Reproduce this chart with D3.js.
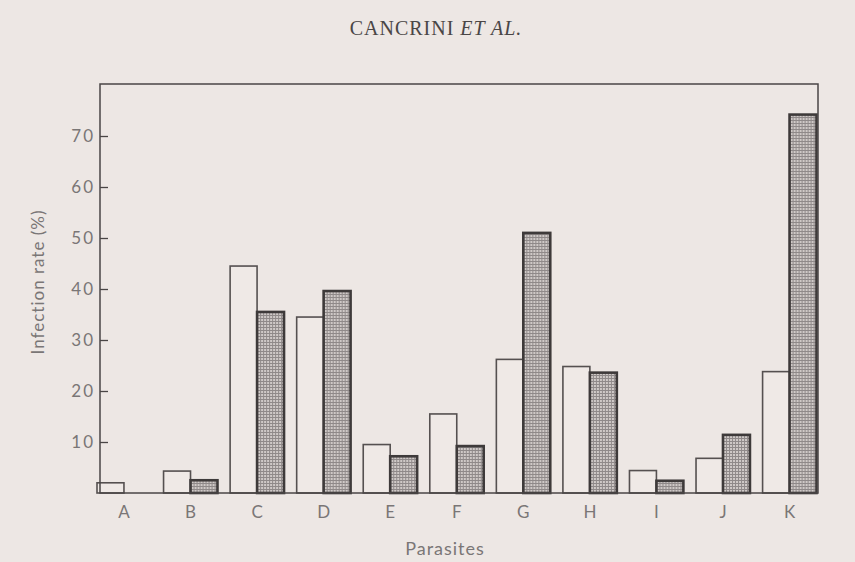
<!DOCTYPE html>
<html>
<head>
<meta charset="utf-8">
<script src="https://cdn.jsdelivr.net/npm/d3@7"></script>
<style>
  body { margin: 0; background: #ede7e4; }
  svg { display: block; }
</style>
</head>
<body>
<div class="chart"></div>
<script>
// data
const parasites = ["A", "B", "C", "D", "E", "F", "G", "H", "I", "J", "K"];
const openRate = [2.0, 4.3, 44.5, 34.5, 9.5, 15.5, 26.2, 24.8, 4.4, 6.8, 23.8];
const hatchRate = [0, 2.5, 35.5, 39.6, 7.2, 9.2, 51, 23.6, 2.4, 11.4, 74.2];
const yTicks = [10, 20, 30, 40, 50, 60, 70];

const W = 855, H = 562;
const ink = "#4a4646", textCol = "#7a7676";

const svg = d3.select(".chart")
    .append("svg")
    .attr("width", W)
    .attr("height", H);

svg.append("rect").attr("width", W).attr("height", H).attr("fill", "#ede7e4");

// fine grid fill for the second series
const defs = svg.append("defs");
const pat = defs.append("pattern")
    .attr("id", "grid")
    .attr("patternUnits", "userSpaceOnUse")
    .attr("width", 3).attr("height", 3);
pat.append("rect").attr("width", 3).attr("height", 3).attr("fill", "#cfc9c7");
pat.append("path")
    .attr("d", "M0,0.5H3M0.5,0V3")
    .attr("stroke", "#8f8989")
    .attr("stroke-width", 1);

//scales
const plotL = 100, plotR = 818, plotT = 84, plotB = 493;

const x = d3.scaleBand()
    .domain(parasites)
    .range([97, 816.5])
    .paddingInner(0.19)
    .paddingOuter(0);
const xSub = d3.scaleBand()
    .domain(["open", "hatch"])
    .range([0, x.bandwidth()]);
const y = d3.scaleLinear()
    .domain([0, 80])
    .range([plotB, 85]);

const rows = parasites.map((p, i) => ({p: p, open: openRate[i], hatch: hatchRate[i]}));

// bars
const groups = svg.selectAll(".grp")
    .data(rows)
    .enter()
    .append("g")
    .attr("class", "grp")
    .attr("transform", d => `translate(${x(d.p)},0)`);

groups.filter(d => d.open > 0)
    .append("rect")
    .attr("x", xSub("open"))
    .attr("y", d => y(d.open))
    .attr("width", xSub.bandwidth())
    .attr("height", d => y(0) - y(d.open))
    .attr("fill", "#efe9e6")
    .attr("stroke", "#555050")
    .attr("stroke-width", 1.6);

groups.filter(d => d.hatch > 0)
    .append("rect")
    .attr("x", xSub("hatch"))
    .attr("y", d => y(d.hatch))
    .attr("width", xSub.bandwidth())
    .attr("height", d => y(0) - y(d.hatch))
    .attr("fill", "url(#grid)")
    .attr("stroke", "#3e3a3a")
    .attr("stroke-width", 2.6);

// frame
svg.append("rect")
    .attr("x", plotL).attr("y", plotT)
    .attr("width", plotR - plotL).attr("height", plotB - plotT)
    .attr("fill", "none")
    .attr("stroke", ink)
    .attr("stroke-width", 1.5);

//axes
const yAxis = d3.axisLeft(y)
    .tickValues(yTicks)
    .tickSize(-8)
    .tickPadding(5);
const gy = svg.append("g")
    .attr("transform", `translate(${plotL},0)`)
    .call(yAxis);
gy.select(".domain").remove();
gy.selectAll("line").attr("stroke", ink).attr("stroke-width", 1.3);
gy.selectAll("text")
    .attr("fill", textCol)
    .attr("font-family", "Lato, 'DejaVu Sans', sans-serif")
    .attr("font-size", 17)
    .attr("letter-spacing", 2);

const xAxis = d3.axisBottom(x)
    .tickSize(0)
    .tickPadding(13);
const gx = svg.append("g")
    .attr("transform", `translate(0,${plotB})`)
    .call(xAxis);
gx.select(".domain").remove();
gx.selectAll("text")
    .attr("fill", textCol)
    .attr("font-family", "Lato, 'DejaVu Sans', sans-serif")
    .attr("font-size", 17);

// titles
svg.append("text")
    .attr("x", 445)
    .attr("y", 555)
    .attr("text-anchor", "middle")
    .attr("fill", textCol)
    .attr("font-family", "Lato, 'DejaVu Sans', sans-serif")
    .attr("font-size", 18)
    .attr("letter-spacing", 1)
    .text("Parasites");

svg.append("text")
    .attr("transform", "translate(44,282) rotate(-90)")
    .attr("text-anchor", "middle")
    .attr("fill", textCol)
    .attr("font-family", "Lato, 'DejaVu Sans', sans-serif")
    .attr("font-size", 17)
    .attr("letter-spacing", 1)
    .text("Infection rate (%)");

const title = svg.append("text")
    .attr("x", 436)
    .attr("y", 35)
    .attr("text-anchor", "middle")
    .attr("fill", "#4a4646")
    .attr("font-family", "'Liberation Serif', 'Times New Roman', serif")
    .attr("font-size", 20)
    .attr("letter-spacing", 1);
title.append("tspan").text("CANCRINI ");
title.append("tspan").attr("font-style", "italic").text("ET AL.");
</script>
</body>
</html>
